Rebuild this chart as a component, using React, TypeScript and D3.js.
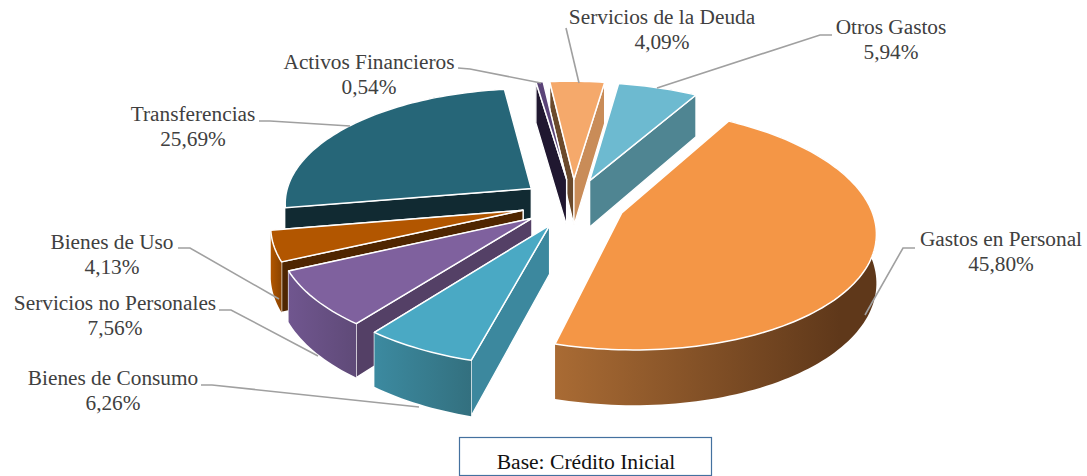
import React from "react";
import * as d3 from "d3";

const categories = ["Gastos en Personal", "Bienes de Consumo", "Servicios no Personales", "Bienes de Uso", "Transferencias", "Activos Financieros", "Servicios de la Deuda", "Otros Gastos"];
const values = [45.8, 6.26, 7.56, 4.13, 25.69, 0.54, 4.09, 5.94];
const valueLabels = ["45,80%", "6,26%", "7,56%", "4,13%", "25,69%", "0,54%", "4,09%", "5,94%"];
const topColors = ["#f49646", "#4aa9c4", "#7f619e", "#b25600", "#266678", "#5b4478", "#f5a96b", "#6dbad0"];
const startWallColors = ["#a76a33", "#3c889e", "#544066", "#4f2600", "#112a32", "#201730", "#6b4a2c", "#c98c58"];
const endWallColors = ["#5f381a", "#3c889e", "#544066", "#4f2600", "#112a32", "#201730", "#c98c58", "#4f8592"];
const outerLeft = ["#a96b34", "#3c8aa0", "#70568f", "#b25600", "#112a32", "#201730", "#c98c58", "#4f8592"];
const outerRight = ["#5f381a", "#33707f", "#5f4a78", "#8a4300", "#112a32", "#201730", "#c98c58", "#4f8592"];
const labelX = [1001, 113, 115, 112, 193, 369, 662, 891];
const labelY = [246, 385, 310, 249, 121, 69, 24, 34];
const leaders: [number, number][][] = [
  [[915, 248], [903, 248], [865, 315]],
  [[201, 385], [212, 385], [419, 407]],
  [[219, 310], [231, 310], [318, 356]],
  [[178, 248], [190, 248], [279, 299]],
  [[259, 121], [270, 121], [350, 126]],
  [[458, 68], [470, 69], [541, 83]],
  [[566, 28], [566, 28], [579, 83]],
  [[832, 35], [820, 35], [657, 88]],
];

const W = 1087, H = 476;
const cx = 573, cy = 203, Rx = 248, Ry = 116.5, K = 0.13, SK = 5, EXPLODE = 0.21, DEPTH = 47.5;

const project = (u: number, v: number, h: number): [number, number] => {
  const s = 1 / (1 - K * v);
  return [cx + s * u * Rx + SK * v, cy + s * v * Ry + h * s];
};
const lineGen = d3.line<[number, number]>().x((d) => d[0]).y((d) => d[1]);

const pie = d3.pie<number>().sort(null).startAngle((31 * Math.PI) / 180).endAngle((31 * Math.PI) / 180 + 2 * Math.PI);
const arcs = pie(values);

type Slice = { i: number; depth: number; top: string; x0: number; x1: number; walls: { d: string; fill: string; v: number; stroke: boolean }[] };

const slices: Slice[] = arcs.map((a, i) => {
  const mid = (a.startAngle + a.endAngle) / 2;
  const ou = EXPLODE * Math.sin(mid), ov = -EXPLODE * Math.cos(mid);
  const pt = (ang: number, r: number, h: number) => project(ou + r * Math.sin(ang), ov - r * Math.cos(ang), h);
  const n = Math.max(6, Math.ceil((a.endAngle - a.startAngle) * 40));
  const angs = d3.range(n + 1).map((k) => a.startAngle + ((a.endAngle - a.startAngle) * k) / n);
  const rim = angs.map((t) => pt(t, 1, 0));
  const rimLow = angs.map((t) => pt(t, 1, DEPTH));
  const tip = pt(0, 0, 0), tipLow = pt(0, 0, DEPTH);
  const top = lineGen([tip, ...rim])! + "Z";
  const startWall = lineGen([tip, rim[0], rimLow[0], tipLow])! + "Z";
  const endWall = lineGen([tip, rim[n], rimLow[n], tipLow])! + "Z";
  const outer = lineGen([...rim, ...[...rimLow].reverse()])! + "Z";
  const xs = rim.map((p) => p[0]);
  const v0 = ov - 0.5 * Math.cos(a.startAngle), v1 = ov - 0.5 * Math.cos(a.endAngle);
  const vm = ov + d3.max(angs, (t) => -Math.cos(t))!;
  return {
    i, depth: ov, top,
    x0: d3.min(xs)!, x1: i === 0 ? 840 : d3.max(xs)!,
    walls: [
      { d: outer, fill: `url(#wall${i})`, v: vm, stroke: false },
      { d: startWall, fill: startWallColors[i], v: v0, stroke: true },
      { d: endWall, fill: endWallColors[i], v: v1, stroke: true },
    ].sort((p, q) => p.v - q.v),
  };
});
const ordered = [...slices].sort((a, b) => a.depth - b.depth);
const font = "'Liberation Serif','Times New Roman',serif";

export default function App() {
  return (
    <svg width={W} height={H} viewBox={`0 0 ${W} ${H}`} style={{ position: "absolute", left: 0, top: 0, background: "#fff" }}>
      <defs>
        {slices.map((s) => (
          <linearGradient key={s.i} id={`wall${s.i}`} gradientUnits="userSpaceOnUse" x1={s.x0} x2={s.x1} y1={0} y2={0}>
            <stop offset="0" stopColor={outerLeft[s.i]} />
            <stop offset="1" stopColor={outerRight[s.i]} />
          </linearGradient>
        ))}
      </defs>
      {ordered.map((s) => (
        <g key={s.i}>
          {s.walls.map((w, k) => (
            <path key={k} d={w.d} fill={w.fill} stroke={w.stroke ? "#fff" : "none"} strokeWidth={1.3} strokeLinejoin="round" />
          ))}
          <path d={s.top} fill={topColors[s.i]} stroke="#fff" strokeWidth={1.5} strokeLinejoin="round" />
        </g>
      ))}
      {leaders.map((l, i) => (
        <path key={i} d={lineGen(l)!} fill="none" stroke="#a0a0a0" strokeWidth={1.6} />
      ))}
      {categories.map((c, i) => (
        <text key={c} x={labelX[i]} y={labelY[i]} textAnchor="middle" fontFamily={font} fontSize={21.3} fill="#404040">
          <tspan x={labelX[i]}>{c}</tspan>
          <tspan x={labelX[i]} dy={25}>{valueLabels[i]}</tspan>
        </text>
      ))}
      <rect x={459.5} y={437.5} width={252} height={38} fill="#fff" stroke="#44719f" strokeWidth={1.2} />
      <text x={586} y={469} textAnchor="middle" fontFamily={font} fontSize={21.6} fill="#111">Base: Crédito Inicial</text>
    </svg>
  );
}
